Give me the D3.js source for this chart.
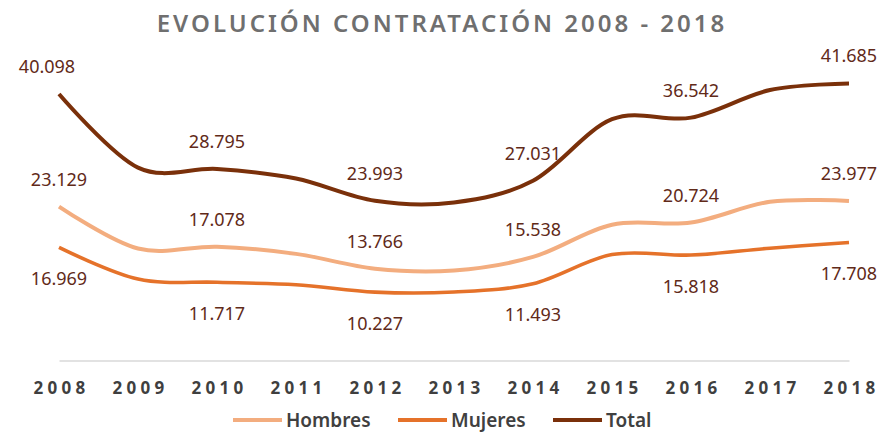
<!DOCTYPE html>
<html>
<head>
<meta charset="utf-8">
<script src="https://cdn.jsdelivr.net/npm/d3@7"></script>
<style>
  body { margin: 0; background: #fff; }
  text { font-family: "Noto Sans", sans-serif; }
</style>
</head>
<body>
<script>
// años y series (Total = Hombres + Mujeres); los años impares se leen de la curva
const years = ['2008', '2009', '2010', '2011', '2012', '2013', '2014', '2015', '2016', '2017', '2018']
const hombres = [23129, 16800, 17078, 16000, 13766, 13500, 15538, 20400, 20724, 23850, 23977]
const mujeres = [16969, 12200, 11717, 11350, 10227, 10250, 11493, 15900, 15818, 16850, 17708]
const total = [40098, 29000, 28795, 27350, 23993, 23750, 27031, 36300, 36542, 40700, 41685]
const seriesNames = ['Hombres', 'Mujeres', 'Total']

const m = { width: 881, height: 432 }

const svg = d3.select('body').append('svg')
    .attr('width', m.width)
    .attr('height', m.height)

const x = d3.scalePoint()
    .domain(years)
    .range([59, 849])

const y = d3.scaleLinear()
    .domain([0, 45000])
    .range([360, 61.5])

const series = [
    { name: seriesNames[0], values: hombres, color: '#f3ad7f', width: 4, above: true },
    { name: seriesNames[1], values: mujeres, color: '#e5722a', width: 3.6, above: false },
    { name: seriesNames[2], values: total, color: '#7a300a', width: 4, above: true }
]

const fmt = d3.format(',')
const labelFmt = v => fmt(v).replace(/,/g, '.')

// titulo
svg.append('text')
    .attr('x', 442)
    .attr('y', 32)
    .attr('text-anchor', 'middle')
    .attr('font-size', 24)
    .attr('font-weight', 600)
    .attr('letter-spacing', 3)
    .attr('fill', '#6f6f6f')
    .text('EVOLUCIÓN CONTRATACIÓN 2008 - 2018')

// eje x
const xAxis = svg.append('g')
    .attr('transform', 'translate(0,360.5)')
    .call(d3.axisBottom(x).tickSize(0).tickPadding(21))

xAxis.select('.domain')
    .attr('stroke', '#d9d9d9')
    .attr('stroke-width', 1.5)

xAxis.selectAll('text')
    .attr('font-family', '"Noto Sans", sans-serif')
    .attr('font-size', 17)
    .attr('font-weight', 'bold')
    .attr('letter-spacing', 4.3)
    .attr('dx', 2)
    .attr('fill', '#3f3f3f')

const line = d3.line()
    .x((d, i) => x(years[i]))
    .y(d => y(d))
    .curve(d3.curveCardinal.tension(0))

const g = svg.append('g')

g.selectAll('path')
    .data(series)
    .enter()
    .append('path')
        .attr('fill', 'none')
        .attr('stroke', d => d.color)
        .attr('stroke-width', d => d.width)
        .attr('stroke-linecap', 'butt')
        .attr('d', d => line(d.values))

// etiquetas solo en los años pares
series.forEach(function(s) {
    const pts = s.values.map((v, i) => ({ v: v, i: i })).filter(d => d.i % 2 === 0)
    svg.append('g').selectAll('text')
        .data(pts)
        .enter()
        .append('text')
            .attr('x', d => x(years[d.i]) + (s.name === 'Total' && d.i === 0 ? -12 : 0))
            .attr('y', d => y(d.v) + (s.above ? -21 : 37.5))
            .attr('text-anchor', 'middle')
            .attr('font-size', 18)
            .attr('fill', '#612a19')
            .text(d => labelFmt(d.v))
})

// leyenda
const legendX = [233, 398, 553]
const legend = svg.append('g')

series.forEach(function(s, i) {
    legend.append('line')
        .attr('x1', legendX[i])
        .attr('x2', legendX[i] + 49)
        .attr('y1', 420)
        .attr('y2', 420)
        .attr('stroke', s.color)
        .attr('stroke-width', 4)
    legend.append('text')
        .attr('x', legendX[i] + 53)
        .attr('y', 427)
        .attr('font-size', 19)
        .attr('font-weight', 600)
        .attr('fill', '#404040')
        .text(s.name)
})
</script>
</body>
</html>
